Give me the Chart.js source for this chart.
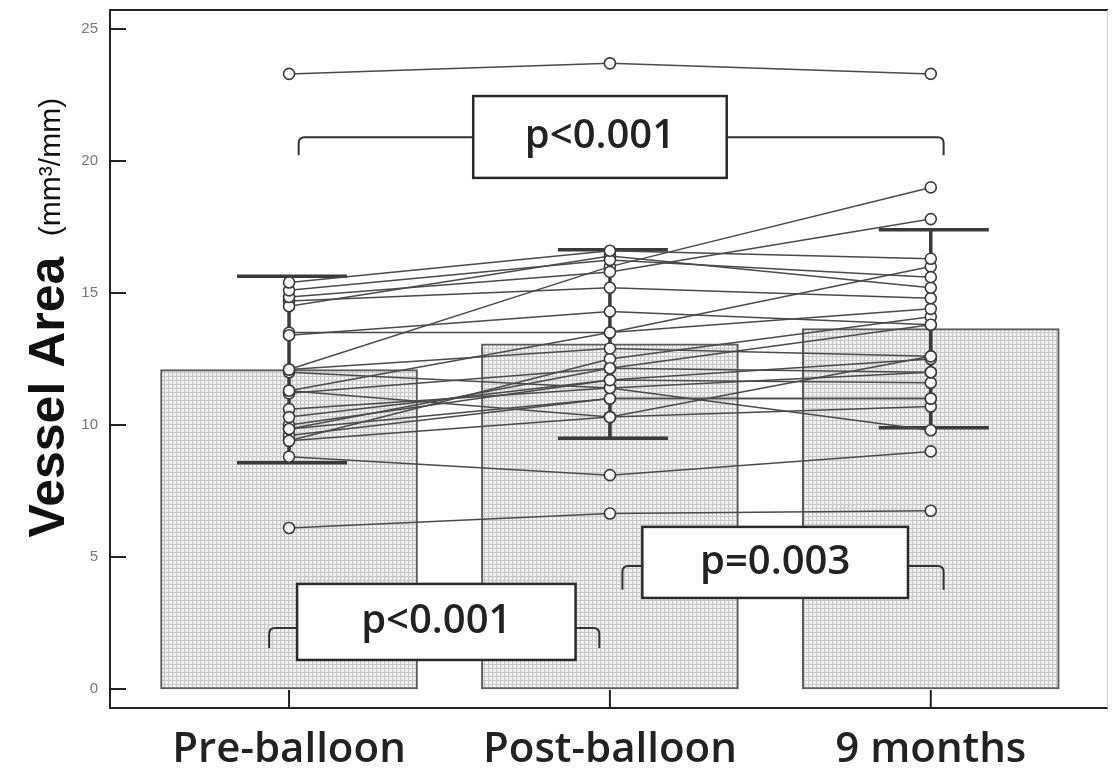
<!DOCTYPE html>
<html>
<head>
<meta charset="utf-8">
<script src="https://cdn.jsdelivr.net/npm/chart.js@4.4.1/dist/chart.umd.min.js"></script>
<style>
  html, body { margin: 0; padding: 0; background: #fff; }
  #wrap { width: 1115px; height: 780px; }
</style>
</head>
<body>
<div id="wrap"><canvas id="chart" width="1115" height="780"></canvas></div>
<script>
// ---- data ----
const categories = ["Pre-balloon", "Post-balloon", "9 months"];
const yTicks = [0, 5, 10, 15, 20, 25];

// group mean and SD (bar + error bar)
const meanValues = [12.1, 13.07, 13.65];
const sdValues = [3.53, 3.57, 3.75];

// per-patient vessel area, same order in each list
const preBalloon  = [23.3, 15.4, 15.1, 14.85, 14.5, 14.7, 13.4, 13.5, 12.1, 12.1, 11.3, 11.2, 10.3, 10.6, 9.4, 9.85, 10.0, 9.6, 9.4, 12.0, 8.8, 6.1, 11.3, 9.85];
const postBalloon = [23.7, 16.6, 16.25, 15.8, 16.4, 15.2, 14.3, 13.5, 16.0, 12.9, 13.5, 12.15, 11.7, 11.4, 12.5, 11.0, 11.7, 11.0, 10.3, 11.4, 8.1, 6.65, 10.3, 12.15];
const nineMonths  = [23.3, 16.3, 15.6, 17.8, 15.2, 14.8, 13.8, 16.0, 19.0, 12.6, 14.4, 12.0, 12.5, 12.0, 14.1, 11.0, 11.6, 11.0, 10.7, 9.8, 9.0, 6.75, 12.6, 13.8];

const pLabels = ["p<0.001", "p<0.001", "p=0.003"];

// bracket layout in axis units: x from/to, bracket line y, drop, box [x0, x1, yTop, yBottom]
const brackets = [
  { from: 0.03, to: 2.04, y: 20.9, drop: 0.68, box: [0.574, 1.364, 22.46, 19.36], text: pLabels[0] },
  { from: -0.062, to: 0.967, y: 2.31, drop: 0.76, box: [0.025, 0.893, 3.98, 1.10], text: pLabels[1] },
  { from: 1.039, to: 2.04, y: 4.66, drop: 0.9, box: [1.101, 1.929, 6.14, 3.45], text: pLabels[2] }
];

const ctx = document.getElementById("chart").getContext("2d");

function gridPattern() {
  const c = document.createElement("canvas");
  c.width = 4; c.height = 4;
  const g = c.getContext("2d");
  g.fillStyle = "#f0f0f0";
  g.fillRect(0, 0, 4, 4);
  g.fillStyle = "#c8c8c8";
  g.fillRect(0, 0, 4, 1);
  g.fillRect(0, 0, 1, 4);
  return ctx.createPattern(c, "repeat");
}

const LINE = "#4a4a4a";
const DARK = "#222";

const patientSets = preBalloon.map((v, i) => ({
  type: "line",
  order: 0,
  data: [
    { x: 0, y: v },
    { x: 1, y: postBalloon[i] },
    { x: 2, y: nineMonths[i] }
  ],
  borderColor: LINE,
  borderWidth: 1.5,
  tension: 0,
  pointRadius: 5.5,
  pointBackgroundColor: "#fff",
  pointBorderColor: "#3a3a3a",
  pointBorderWidth: 1.6
}));

// ---- plugins ----
const framePlugin = {
  id: "frame",
  beforeDatasetsDraw(chart) {
    const { ctx, chartArea: a, scales } = chart;
    ctx.save();
    ctx.strokeStyle = DARK;
    ctx.lineWidth = 2;
    ctx.beginPath();
    ctx.moveTo(a.right, a.top); ctx.lineTo(a.left, a.top);
    ctx.lineTo(a.left, a.bottom); ctx.lineTo(a.right, a.bottom);
    ctx.stroke();
    ctx.strokeStyle = "#ccc";
    ctx.lineWidth = 1;
    ctx.beginPath();
    ctx.moveTo(a.right - 0.5, a.top); ctx.lineTo(a.right - 0.5, a.bottom);
    ctx.stroke();

    // inward tick marks
    ctx.strokeStyle = DARK;
    ctx.lineWidth = 2;
    ctx.beginPath();
    yTicks.forEach(v => {
      const y = scales.y.getPixelForValue(v);
      ctx.moveTo(a.left, y); ctx.lineTo(a.left + 16, y);
    });
    categories.forEach((c, i) => {
      const x = scales.x.getPixelForValue(i);
      ctx.moveTo(x, a.bottom); ctx.lineTo(x, a.bottom - 18);
    });
    ctx.stroke();
    ctx.restore();
  }
};

const errorBarPlugin = {
  id: "errorBars",
  afterDatasetDraw(chart, args) {
    if (args.meta.type !== "bar") return;
    const { ctx, scales } = chart;
    ctx.save();
    ctx.strokeStyle = "#3a3a3a";
    ctx.lineWidth = 3.5;
    meanValues.forEach((m, i) => {
      const x = scales.x.getPixelForValue(i);
      const hi = scales.y.getPixelForValue(m + sdValues[i]);
      const lo = scales.y.getPixelForValue(m - sdValues[i]);
      ctx.beginPath();
      ctx.moveTo(x, hi); ctx.lineTo(x, lo);
      ctx.moveTo(x - 52, hi); ctx.lineTo(x + 58, hi);
      ctx.moveTo(x - 52, lo); ctx.lineTo(x + 58, lo);
      ctx.stroke();
    });
    ctx.restore();
  }
};

const bracketPlugin = {
  id: "brackets",
  afterDatasetsDraw(chart) {
    const { ctx, scales } = chart;
    const px = v => scales.x.getPixelForValue(v);
    const py = v => scales.y.getPixelForValue(v);
    ctx.save();
    brackets.forEach(b => {
      const x0 = px(b.from), x1 = px(b.to), y = py(b.y), yd = py(b.y - b.drop);
      const r = 6;
      ctx.strokeStyle = "#333";
      ctx.lineWidth = 2;
      ctx.beginPath();
      ctx.moveTo(x0, yd);
      ctx.lineTo(x0, y + r);
      ctx.quadraticCurveTo(x0, y, x0 + r, y);
      ctx.lineTo(x1 - r, y);
      ctx.quadraticCurveTo(x1, y, x1, y + r);
      ctx.lineTo(x1, yd);
      ctx.stroke();

      const bx0 = px(b.box[0]), bx1 = px(b.box[1]);
      const by0 = py(b.box[2]), by1 = py(b.box[3]);
      ctx.fillStyle = "#fff";
      ctx.fillRect(bx0, by0, bx1 - bx0, by1 - by0);
      ctx.strokeStyle = "#2a2a2a";
      ctx.lineWidth = 2.5;
      ctx.strokeRect(bx0, by0, bx1 - bx0, by1 - by0);

      ctx.fillStyle = DARK;
      ctx.font = "600 40px 'Open Sans'";
      ctx.textAlign = "center";
      ctx.textBaseline = "middle";
      ctx.fillText(b.text, (bx0 + bx1) / 2, (by0 + by1) / 2);
    });
    ctx.restore();
  }
};

const yTitlePlugin = {
  id: "yTitle",
  afterDraw(chart) {
    const { ctx } = chart;
    ctx.save();
    ctx.fillStyle = "#111";
    ctx.textAlign = "center";
    ctx.textBaseline = "middle";
    ctx.translate(50, 397);
    ctx.rotate(-Math.PI / 2);
    ctx.font = "bold 50px 'Liberation Sans', Arial";
    ctx.fillText("Vessel Area", 0, 0);
    ctx.font = "30px 'Liberation Sans', Arial";
    ctx.fillText("(mm³/mm)", 230, 2);
    ctx.restore();
  }
};

// ---- chart ----
const chart = new Chart(ctx, {
  data: {
    datasets: [
      {
        type: "bar",
        order: 10,
        data: meanValues.map((m, i) => ({ x: i, y: m })),
        backgroundColor: gridPattern(),
        borderColor: "#5a5a5a",
        borderWidth: 2,
        borderSkipped: false,
        barThickness: 257
      },
      ...patientSets
    ]
  },
  options: {
    responsive: false,
    animation: false,
    layout: { padding: { top: 10, right: 2, left: 0, bottom: 0 } },
    plugins: { legend: { display: false }, tooltip: { enabled: false } },
    scales: {
      x: {
        type: "linear",
        offset: false,
        min: -0.558,
        max: 2.552,
        grid: { display: false, drawTicks: false, offset: false },
        border: { display: false },
        afterBuildTicks: s => { s.ticks = categories.map((c, i) => ({ value: i })); },
        afterFit: s => { s.height = 72; },
        ticks: {
          callback: v => categories[v],
          color: DARK,
          font: { family: "'Open Sans'", size: 42, weight: 600 },
          padding: 17,
          maxRotation: 0,
          autoSkip: false
        }
      },
      y: {
        min: -0.72,
        max: 25.72,
        grid: { display: false, drawTicks: false },
        border: { display: false },
        afterBuildTicks: s => { s.ticks = yTicks.map(v => ({ value: v })); },
        afterFit: s => { s.width = 110; s.paddingTop = 0; s.paddingBottom = 0; },
        ticks: {
          color: "#777",
          font: { family: "'Liberation Sans', Arial", size: 15 },
          padding: 12
        }
      }
    }
  },
  plugins: [framePlugin, errorBarPlugin, bracketPlugin, yTitlePlugin]
});
</script>
</body>
</html>
